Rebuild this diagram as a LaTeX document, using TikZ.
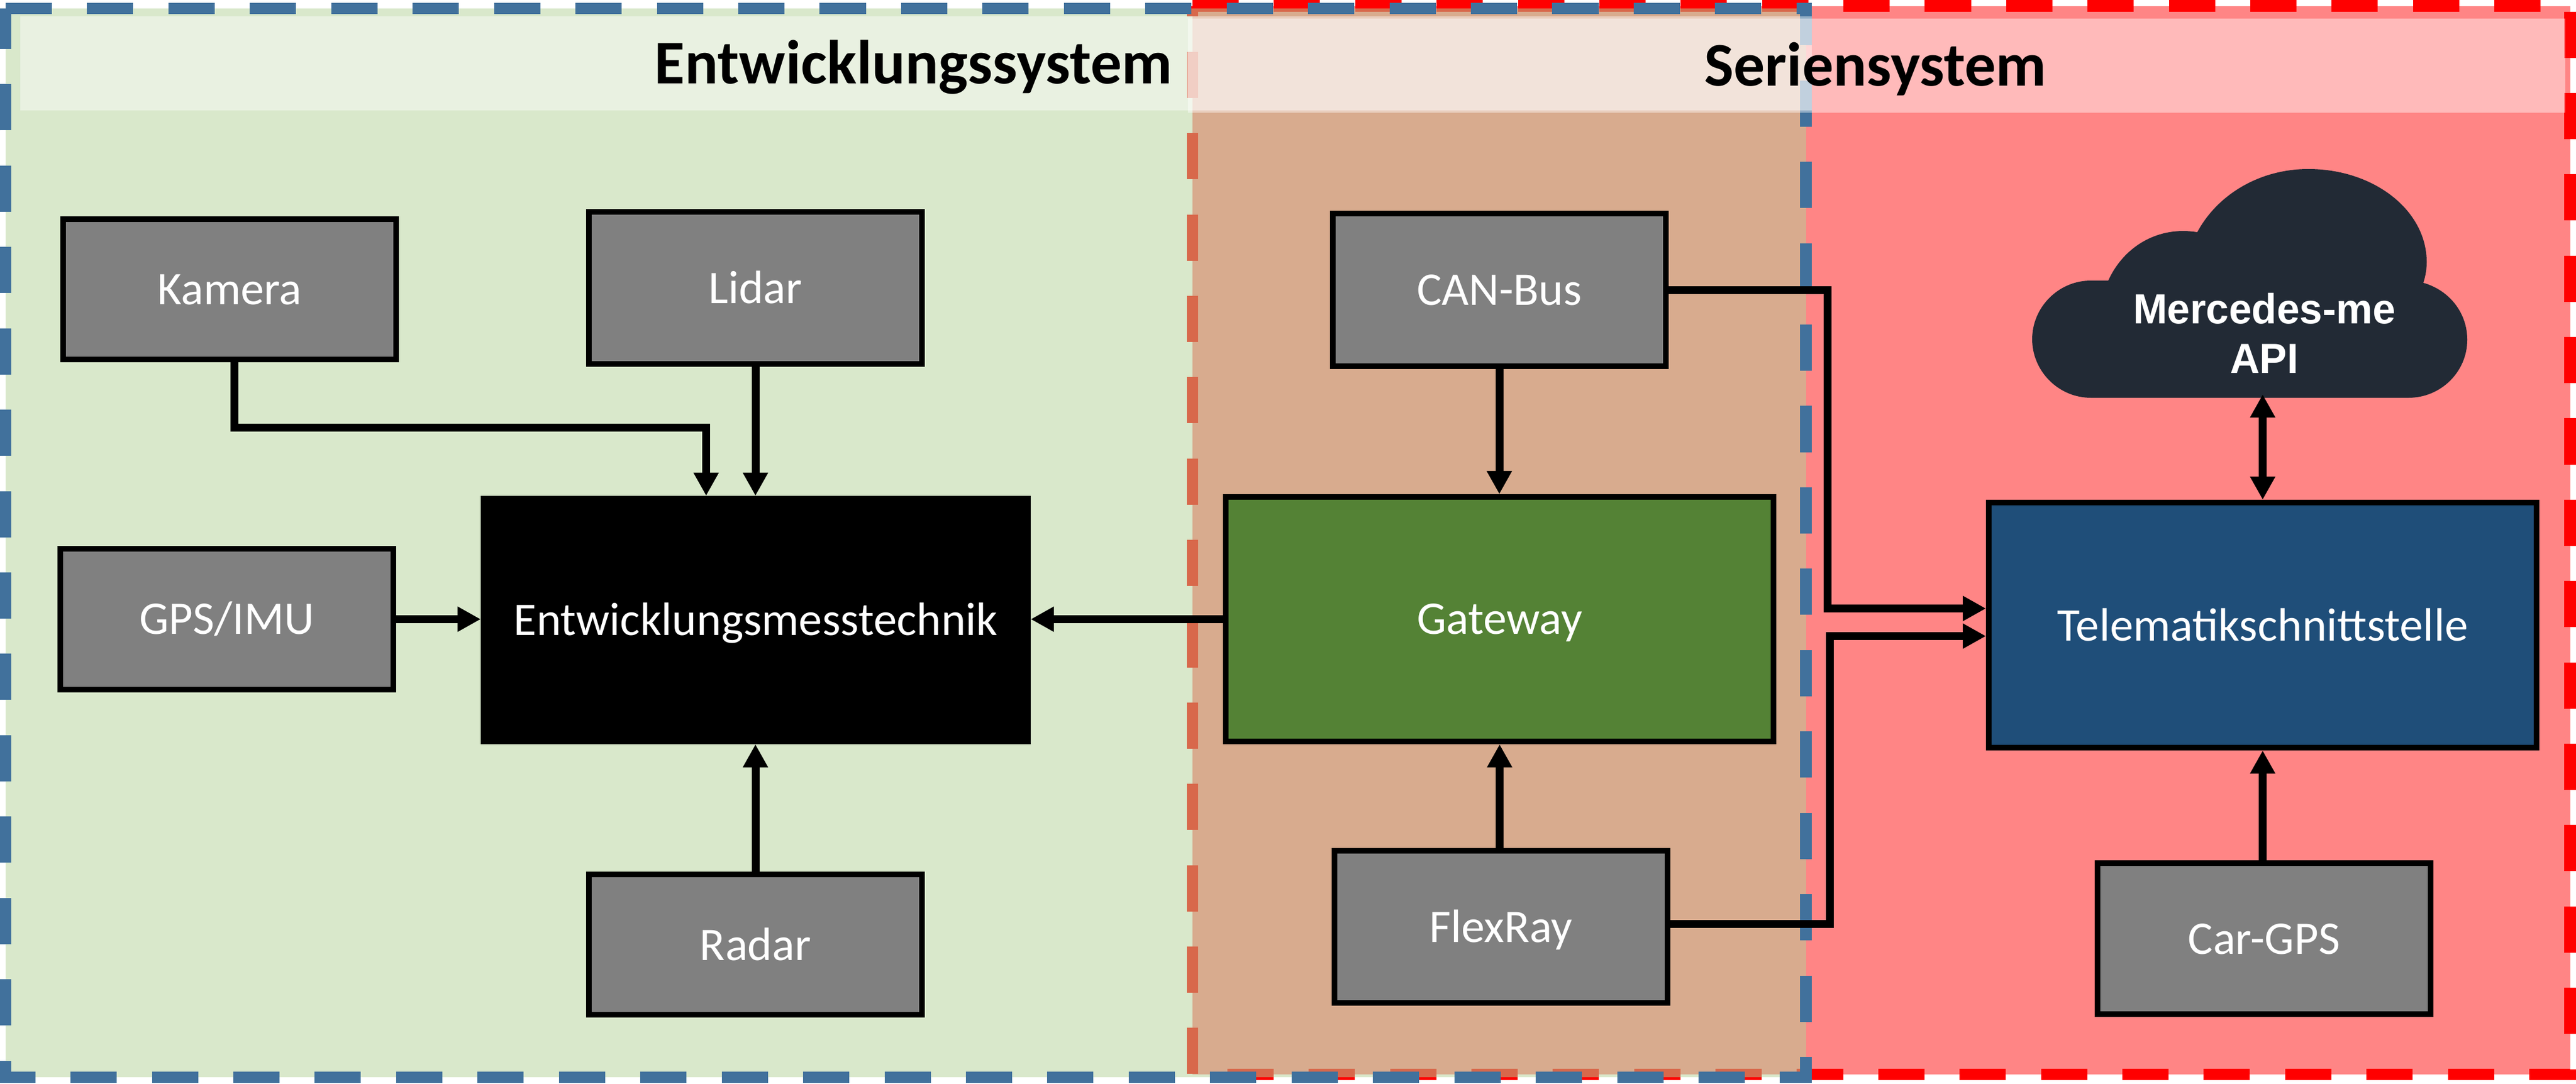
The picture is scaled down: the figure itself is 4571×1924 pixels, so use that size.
\documentclass[tikz,border=0pt]{standalone}
\usepackage{fontspec}
\setmainfont{Carlito}
\newfontfamily\arialf{Liberation Sans}
\usetikzlibrary{arrows.meta}
\definecolor{grn}{HTML}{B3D197}
\definecolor{dblue}{HTML}{41719C}
\definecolor{boxgrey}{HTML}{808080}
\definecolor{gwgreen}{HTML}{548235}
\definecolor{telblue}{HTML}{1F4E79}
\definecolor{cloudc}{HTML}{222A35}
\tikzset{
  region/.style={line width=0.205cm, dash pattern=on 0.82cm off 0.6236cm, line join=miter},
  strip/.style={fill=white, fill opacity=0.43},
  titletxt/.style={inner sep=0pt, anchor=base east, font=\fontsize{31.35pt}{34pt}\selectfont\bfseries, text=black},
  blockbase/.style={rectangle, draw=black, line width=0.1cm, inner sep=0pt, outer sep=0.05cm, text=white, font=\fontsize{23.6pt}{27pt}\selectfont},
  greybox/.style={blockbase, fill=boxgrey},
  gwbox/.style={blockbase, fill=gwgreen},
  telbox/.style={blockbase, fill=telblue},
  blackbox/.style={blockbase, fill=black},
  conn/.style={line width=0.14cm, draw=black, -{Triangle[length=0.41cm,width=0.42cm]}},
  connboth/.style={line width=0.14cm, draw=black, {Triangle[length=0.41cm,width=0.42cm]}-{Triangle[length=0.41cm,width=0.42cm]}},
}
% name, style, x0, y0, x1, y1, baseline, text  (outer edges, pixels)
\newcommand\blk[8]{%
  \pgfmathsetmacro\bxc{(#3+#5)/2}%
  \pgfmathsetmacro\byc{(#4+#6)/2}%
  \pgfmathsetmacro\bw{(#5-#3-10)*0.01}%
  \pgfmathsetmacro\bth{(#7-#4-5)*0.01}%
  \pgfmathsetmacro\btd{(#6-5-#7)*0.01}%
  \node[#2, minimum width=\bw cm, text height=\bth cm, text depth=\btd cm] (#1) at (\bxc,\byc) {#8};%
}
\begin{document}
\begin{tikzpicture}[x=0.01cm,y=-0.01cm]
\useasboundingbox (0,0) rectangle (4571,1924);
% regions
\path[fill=red, fill opacity=0.48] (2116,10.5) -- (4560.5,10.5) -- (4560.5,1907) -- (2116,1907) -- cycle;
\draw[region, draw=red, dash pattern=on 0.82cm off 0.623cm] (2116,10.5) -- (4560.5,10.5) -- (4560.5,1907) -- (2116,1907) -- cycle;
\path[fill=grn, fill opacity=0.5] (10,15) -- (3204.5,15) -- (3204.5,1912) -- (10,1912) -- cycle;
\draw[region, draw=dblue] (10,15) -- (3204.5,15) -- (3204.5,1912) -- (10,1912) -- cycle;
\path[strip] (36,29) rectangle (3215,196);
\path[strip] (2108,33) rectangle (4552,200);
% titles
\node[titletxt] (t1) at (2081,148) {Entwicklungssystem};
\node[titletxt] (t2) at (3632,152) {Seriensystem};
% cloud
\path[fill=cloudc] (3710,706) .. controls (3653,706) and (3606,659) .. (3606,602)
  .. controls (3606,545) and (3653,498) .. (3710,498) -- (3741,498)
  .. controls (3765,445) and (3815,410) .. (3874,410)
  .. controls (3883,410) and (3891,411) .. (3899,412)
  .. controls (3935,345) and (4010,300) .. (4096,300)
  .. controls (4212,300) and (4306,373) .. (4306,465)
  .. controls (4306,478) and (4304,490) .. (4300,502)
  .. controls (4346,515) and (4378,555) .. (4378,603)
  .. controls (4378,660) and (4331,706) .. (4274,706) -- cycle;
\node[inner sep=0pt, anchor=base, text=white, align=center, font=\arialf\bfseries\fontsize{21.3pt}{24.95pt}\selectfont] (cloudtxt) at (4018,662.7) {\scalebox{0.972}[1]{Mercedes-me}\\\scalebox{0.972}[1]{API}};
\coordinate (cloudb) at (4015,700);
% blocks
\blk{kam}{greybox}{107}{384}{708}{643}{540}{Kamera}
\blk{lid}{greybox}{1040}{371}{1641}{651}{538}{Lidar}
\blk{gps}{greybox}{102}{969}{703}{1229}{1125}{GPS/IMU}
\blk{ent}{blackbox}{853}{880}{1829}{1321}{1127}{Entwicklungsmesstechnik}
\blk{rad}{greybox}{1040}{1547}{1641}{1806}{1704}{Radar}
\blk{can}{greybox}{2360}{374}{2961}{655}{541}{CAN-Bus}
\blk{gw}{gwbox}{2170}{877}{3152}{1321}{1125}{Gateway}
\blk{flx}{greybox}{2363}{1505}{2964}{1785}{1672}{FlexRay}
\blk{tel}{telbox}{3524}{887}{4506}{1332}{1137}{Telematikschnittstelle}
\blk{car}{greybox}{3717}{1527}{4318}{1805}{1693}{Car-GPS}
% connector bend points
\coordinate (kb) at (1253,759);
\coordinate (cb) at (3243,1080);
\coordinate (fb) at (3247,1129);
% connectors
\draw[conn] ([xshift=0.08cm]kam.south) |- (kb) -- (kb |- ent.north);
\draw[conn] (lid.south) -- (lid.south |- ent.north);
\draw[conn] (gps.east) -- (ent.west |- gps.east);
\draw[conn] (rad.north) -- (rad.north |- ent.south);
\draw[conn] (gw.west) -- (ent.east |- gw.west);
\draw[conn] (can.south) -- (can.south |- gw.north);
\draw[conn] (flx.north -| gw.south) -- (gw.south);
\draw[conn] (can.east) -| (cb) -- (tel.west |- cb);
\draw[conn] ([yshift=0.05cm]flx.east) -| (fb) -- (tel.west |- fb);
\draw[conn] (tel.south |- car.north) -- (tel.south);
\draw[connboth] (tel.north) -- (tel.north |- cloudb);
\end{tikzpicture}
\end{document}
